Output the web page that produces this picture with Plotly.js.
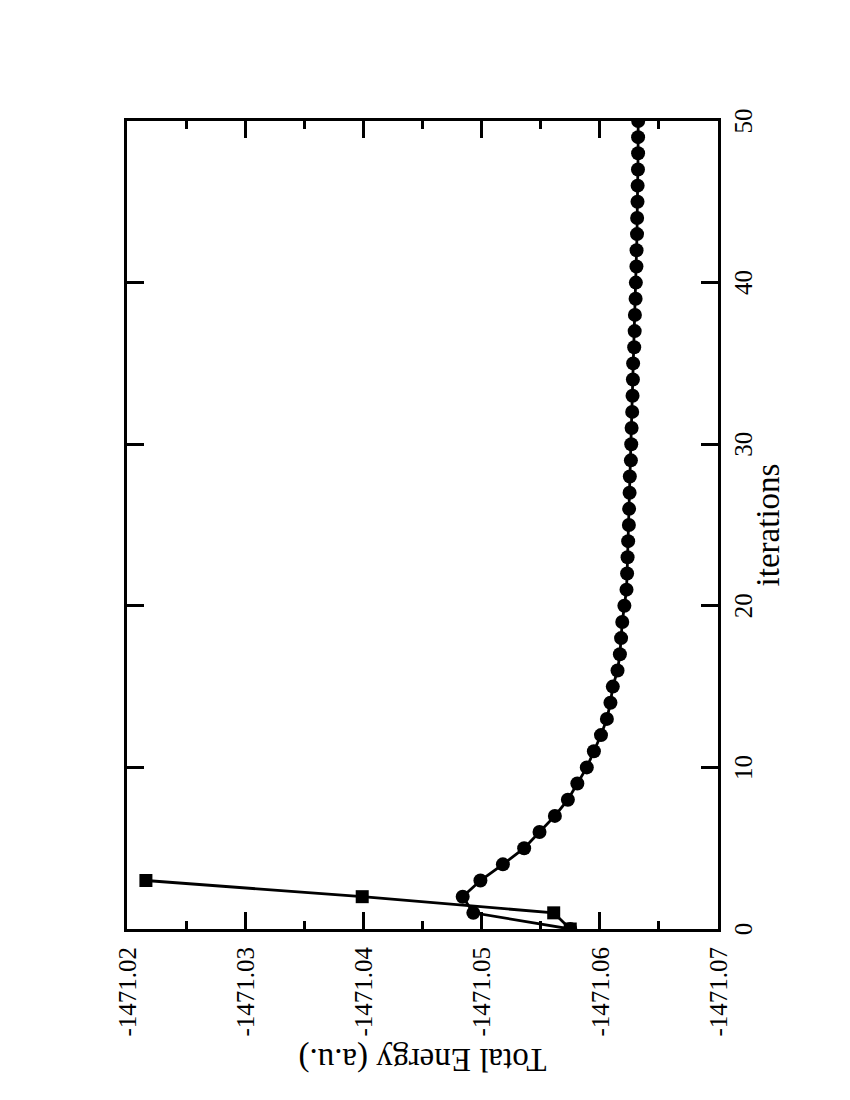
<!DOCTYPE html>
<html>
<head>
<meta charset="utf-8">
<script src="https://cdn.plot.ly/plotly-3.0.1.min.js"></script>
<style>
  body { margin: 0; overflow: hidden; background: #ffffff; }
  /* the chart is drawn in landscape and turned a quarter turn to the left */
  #plot {
    position: absolute; left: 0; top: 0;
    width: 1100px; height: 850px;
    transform-origin: 0 0;
    transform: translateY(1100px) rotate(-90deg);
  }
</style>
</head>
<body>
<div id="plot"></div>
<script>
// Total energy per iteration, circles (full run) and squares (first steps)
const circleIterations = [
  0, 1, 2, 3, 4, 5, 6, 7, 8, 9, 10, 11, 12, 13, 14, 15, 16, 17, 18, 19, 20,
  21, 22, 23, 24, 25, 26, 27, 28, 29, 30, 31, 32, 33, 34, 35, 36, 37, 38, 39,
  40, 41, 42, 43, 44, 45, 46, 47, 48, 49, 50
];
const circleEnergy = [
  -1471.0575, -1471.0493, -1471.0484, -1471.0499, -1471.0518, -1471.0536,
  -1471.0549, -1471.0562, -1471.0573, -1471.0581, -1471.0589, -1471.0595,
  -1471.0601, -1471.0606, -1471.0609, -1471.0611, -1471.0615, -1471.0617,
  -1471.0618, -1471.0619, -1471.06208, -1471.06226, -1471.06231, -1471.06235,
  -1471.06240, -1471.06246, -1471.06248, -1471.06252, -1471.06254, -1471.06263,
  -1471.06266, -1471.06269, -1471.06274, -1471.06277, -1471.06280, -1471.06282,
  -1471.06291, -1471.06295, -1471.06297, -1471.06303, -1471.06305, -1471.06310,
  -1471.06311, -1471.06315, -1471.06316, -1471.06319, -1471.06320, -1471.06323,
  -1471.06324, -1471.06324, -1471.06325
];
const squareIterations = [0, 1, 2, 3];
const squareEnergy = [-1471.0575, -1471.0561, -1471.0399, -1471.0216];

// Tick labels of the energy axis (plain hyphen minus, as in the reference)
const energyTickValues = [-1471.07, -1471.06, -1471.05, -1471.04, -1471.03, -1471.02];
const energyTickLabels = ['-1471.07', '-1471.06', '-1471.05', '-1471.04', '-1471.03', '-1471.02'];

const FONT = '"Liberation Serif", serif';
const LINE_STYLE = {color: '#000000', width: 2.8};

const AXIS_STYLE = {
  showline: true,
  linecolor: '#000000',
  linewidth: 3,
  mirror: 'ticks',
  ticks: 'inside',
  ticklen: 17,
  tickwidth: 3,
  tickcolor: '#000000',
  showgrid: false,
  zeroline: false,
  tickfont: {family: FONT, size: 25, color: '#000000'}
};

const traceCircles = {
  x: circleIterations,
  y: circleEnergy,
  mode: 'lines+markers',
  line: LINE_STYLE,
  marker: {symbol: 'circle', size: 14, color: '#000000'},
  showlegend: false
};

const traceSquares = {
  x: squareIterations,
  y: squareEnergy,
  mode: 'lines+markers',
  line: LINE_STYLE,
  marker: {symbol: 'square', size: 13, color: '#000000'},
  showlegend: false
};

const LAYOUT = {
  width: 1100,
  height: 850,
  margin: {l: 171, r: 121, t: 127, b: 132},
  font: {family: FONT, color: '#000000'},
  paper_bgcolor: '#ffffff',
  plot_bgcolor: '#ffffff',
  xaxis: Object.assign({}, AXIS_STYLE, {
    range: [0, 50],
    tick0: 0,
    dtick: 10,
    ticklabelstandoff: 1,
    title: {text: 'iterations', font: {family: FONT, size: 33, color: '#000000'}, standoff: 0}
  }),
  yaxis: Object.assign({}, AXIS_STYLE, {
    range: [-1471.07, -1471.02],
    tickmode: 'array',
    tickvals: energyTickValues,
    ticktext: energyTickLabels,
    ticklabelstandoff: 10,
    minor: {ticks: 'inside', ticklen: 8, tickwidth: 3, tickcolor: '#000000', dtick: 0.005, tick0: -1471.07},
    title: {text: 'Total Energy (a.u.)', font: {family: FONT, size: 33, color: '#000000'}, standoff: 2}
  })
};

const CONFIG = {displayModeBar: false, staticPlot: true};

Plotly.newPlot('plot', [traceCircles, traceSquares], LAYOUT, CONFIG);
</script>
</body>
</html>
